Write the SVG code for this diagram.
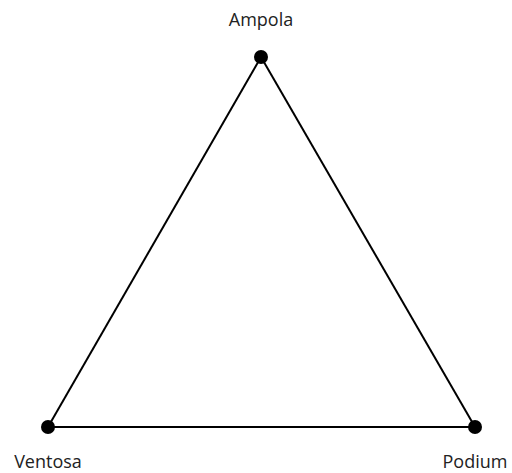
<svg xmlns="http://www.w3.org/2000/svg" width="512" height="473" viewBox="0 0 512 473">
<style>
.edge{stroke:#000;stroke-width:2;fill:none}
.dot{fill:#000}
.lbl{font-family:"Open Sans",sans-serif;font-size:18px;fill:#222;text-anchor:middle}
</style>
<rect width="512" height="473" fill="#fff"/>
<g id="connectors">
<line class="edge" x1="261" y1="57" x2="48" y2="427"/>
<line class="edge" x1="261" y1="57" x2="475" y2="427"/>
<line class="edge" x1="48" y1="427" x2="475" y2="427"/>
</g>
<g id="ampola"><circle class="dot" cx="261" cy="57" r="7"/><text class="lbl" x="261" y="26">Ampola</text></g>
<g id="ventosa"><circle class="dot" cx="48" cy="427" r="7"/><text class="lbl" x="48" y="468">Ventosa</text></g>
<g id="podium"><circle class="dot" cx="475" cy="427" r="7"/><text class="lbl" x="475" y="468">Podium</text></g>
</svg>
